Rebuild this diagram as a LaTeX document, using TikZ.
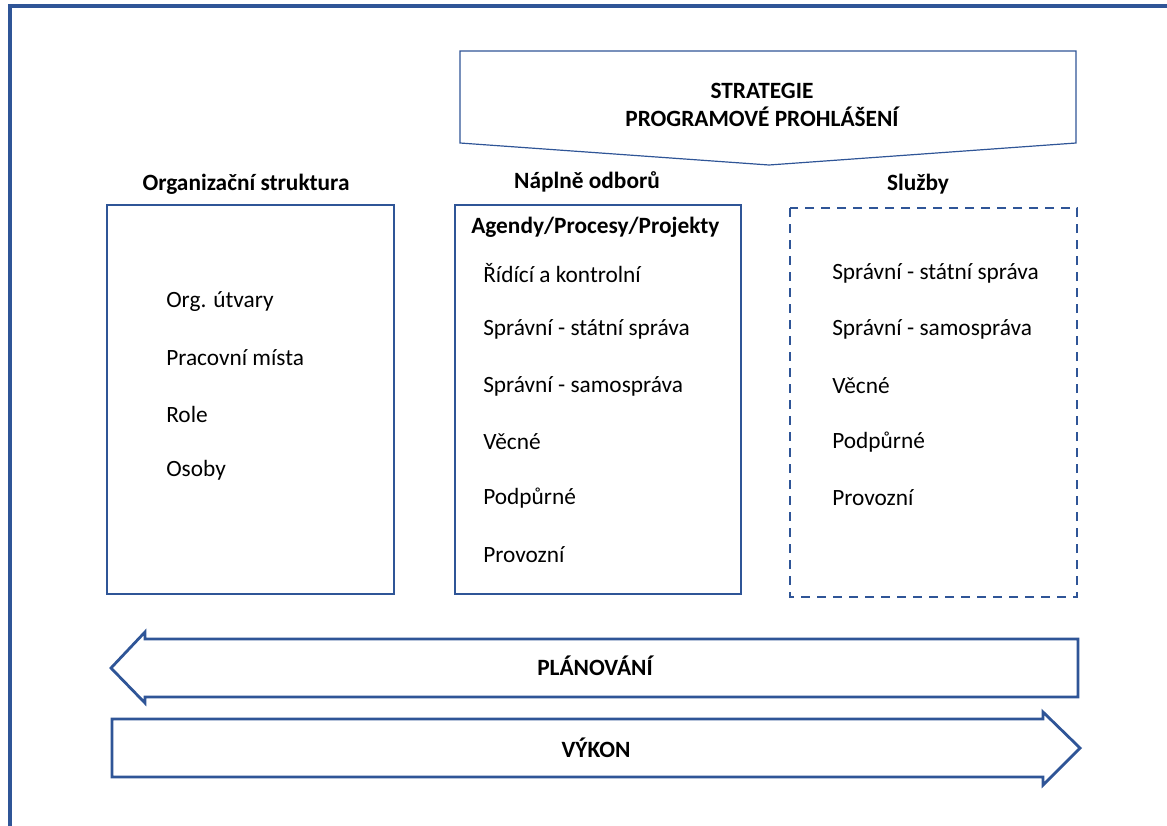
\documentclass[tikz,border=0pt]{standalone}
\usepackage{fontspec}
\setmainfont{Carlito}
\definecolor{dblue}{HTML}{2F5597}
\begin{document}
\begin{tikzpicture}[x=0.75pt,y=-0.75pt,
  box/.style={draw=dblue,line width=2.1pt},
  txt/.style={inner sep=0pt,font=\fontsize{17.5}{21}\selectfont,anchor=west},
  ttl/.style={inner sep=0pt,font=\fontsize{17.5}{21}\selectfont\bfseries},
  arr/.style={draw=dblue,line width=2.1pt,line join=miter}]
\useasboundingbox (0,0) rectangle (1167,825);
\clip (0,0) rectangle (1167,825);
\draw[dblue,line width=2.6pt] (10,6) rectangle (1220,880);
% strategy pentagon
\draw[dblue,line width=0.9pt] (460,51) -- (1076,51) -- (1076,143) -- (769,165) -- (460,143) -- cycle;
\node[ttl,align=center] (strat) at (762,105) {STRATEGIE\\PROGRAMOVÉ PROHLÁŠENÍ};
% titles
\node[ttl] (t1) at (246,184) {Organizační struktura};
\node[ttl] (t2) at (587,182) {Náplně odborů};
\node[ttl] (t3) at (918,184) {Služby};
% boxes
\draw[box] (107,205) rectangle (394,594);
\draw[box] (455,205) rectangle (741,594);
\draw[box,dash pattern=on 7pt off 5pt] (790,208) rectangle (1077,597);
% left items
\node[txt] (l1) at (166,302) {Org. útvary};
\node[txt] (l2) at (166,358) {Pracovní místa};
\node[txt] (l3) at (166,414) {Role};
\node[txt] (l4) at (166,470) {Osoby};
% middle
\node[ttl,anchor=west] (m0) at (471,227) {Agendy/Procesy/Projekty};
\node[txt] (m1) at (483,273) {Řídící a kontrolní};
\node[txt] (m2) at (483,329) {Správní - státní správa};
\node[txt] (m3) at (483,386) {Správní - samospráva};
\node[txt] (m4) at (483,442) {Věcné};
\node[txt] (m5) at (483,498) {Podpůrné};
\node[txt] (m6) at (483,555) {Provozní};
% right
\node[txt] (r1) at (832,273) {Správní - státní správa};
\node[txt] (r2) at (832,329) {Správní - samospráva};
\node[txt] (r3) at (832,386) {Věcné};
\node[txt] (r4) at (832,442) {Podpůrné};
\node[txt] (r5) at (832,498) {Provozní};
% planning arrow
\draw[arr] (1078,639) -- (145,639) -- (145,632) -- (111,668) -- (145,703) -- (145,697) -- (1078,697) -- cycle;
\node[ttl] (plan) at (595,666) {PLÁNOVÁNÍ};
% vykon arrow
\draw[arr] (112,719) -- (1043,719) -- (1043,712) -- (1080,748) -- (1043,785) -- (1043,777) -- (112,777) -- cycle;
\node[ttl] (vykon) at (596,748) {VÝKON};
\end{tikzpicture}
\end{document}
